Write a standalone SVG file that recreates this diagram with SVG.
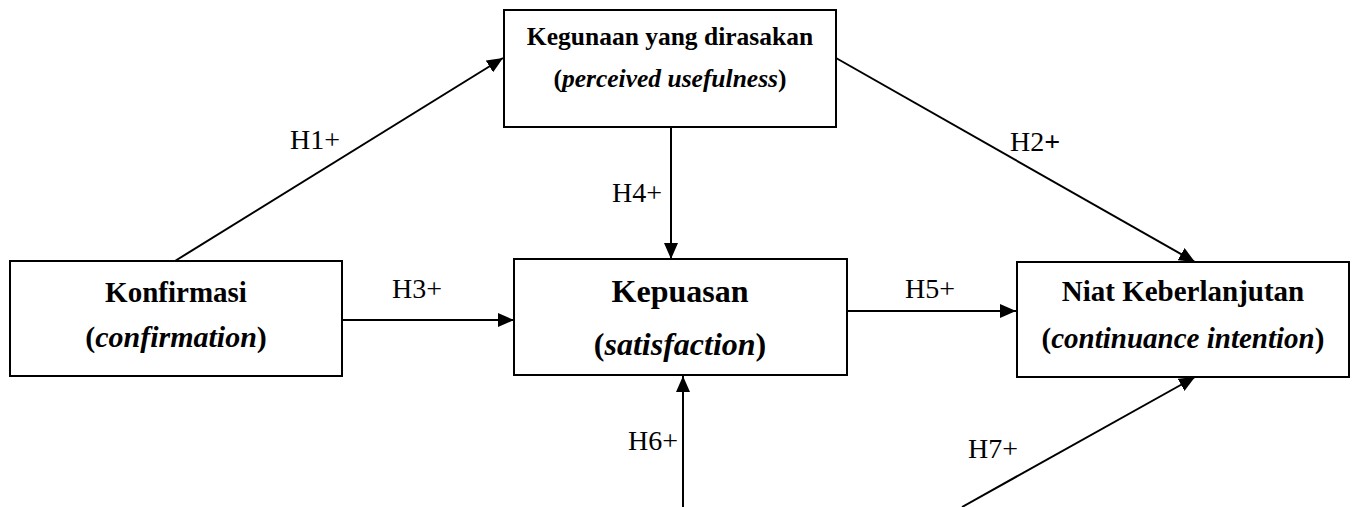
<svg xmlns="http://www.w3.org/2000/svg" width="1353" height="507" viewBox="0 0 1353 507">
<style>
.box{fill:#fff;stroke:#000;stroke-width:2}
.t{font-family:"Liberation Serif","Times New Roman",serif;fill:#000;text-anchor:middle}
.b{font-weight:bold}
.bi{font-weight:bold;font-style:italic}
.lbl{font-family:"Liberation Serif","Times New Roman",serif;font-size:28px;fill:#000}
.c{stroke:#000;stroke-width:2;fill:none;marker-end:url(#ah)}
</style>
<defs>
<marker id="ah" markerUnits="userSpaceOnUse" markerWidth="16" markerHeight="14" refX="16" refY="7" orient="auto">
<path d="M0,0 L16,7 L0,14 z" fill="#000"/>
</marker>
</defs>
<rect width="1353" height="507" fill="#fff"/>
<g id="connectors">
<line class="c" x1="175" y1="261" x2="503" y2="58"/>
<line class="c" x1="836" y1="58" x2="1195" y2="262"/>
<line class="c" x1="342" y1="320" x2="514" y2="320"/>
<line class="c" x1="671" y1="127" x2="671" y2="259"/>
<line class="c" x1="847" y1="311" x2="1016" y2="311"/>
<line class="c" x1="683" y1="507" x2="683" y2="376"/>
<line class="c" x1="962" y1="507" x2="1195" y2="377"/>
<text class="lbl" x="290" y="149">H1+</text>
<text class="lbl" x="1010" y="151">H2<tspan font-weight="bold">+</tspan></text>
<text class="lbl" x="392" y="298">H3+</text>
<text class="lbl" x="612" y="202">H4+</text>
<text class="lbl" x="905" y="298">H5+</text>
<text class="lbl" x="628" y="450">H6+</text>
<text class="lbl" x="968" y="458">H7+</text>
</g>
<g id="node-kegunaan">
<rect class="box" x="504" y="10" width="332" height="117"/>
<text class="t b" x="670" y="45" font-size="25.5">Kegunaan yang dirasakan</text>
<text class="t b" x="670" y="87" font-size="25.5">(<tspan class="bi">perceived usefulness</tspan>)</text>
</g>
<g id="node-konfirmasi">
<rect class="box" x="10" y="261" width="332" height="115"/>
<text class="t b" x="176" y="302" font-size="29">Konfirmasi</text>
<text class="t b" x="176" y="347" font-size="30">(<tspan class="bi">confirmation</tspan>)</text>
</g>
<g id="node-kepuasan">
<rect class="box" x="514" y="259" width="333" height="116"/>
<text class="t b" x="680" y="302" font-size="32">Kepuasan</text>
<text class="t b" x="680" y="355" font-size="32">(<tspan class="bi">satisfaction</tspan>)</text>
</g>
<g id="node-niat">
<rect class="box" x="1017" y="262" width="332" height="115"/>
<text class="t b" x="1183" y="301" font-size="29">Niat Keberlanjutan</text>
<text class="t b" x="1183" y="348" font-size="29">(<tspan class="bi">continuance intention</tspan>)</text>
</g>
</svg>
